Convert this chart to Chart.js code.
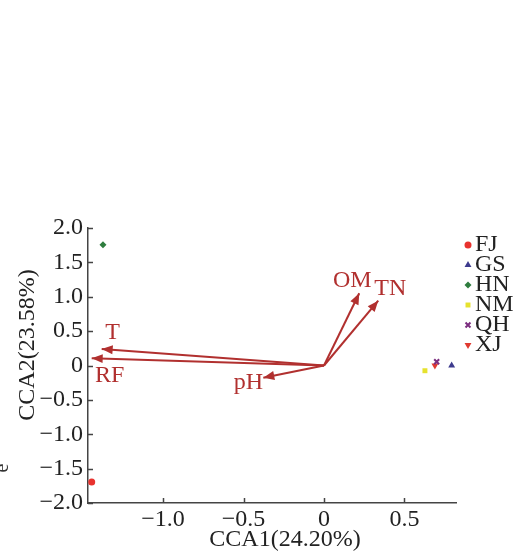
<!DOCTYPE html>
<html>
<head>
<meta charset="utf-8">
<script src="https://cdn.jsdelivr.net/npm/chart.js@4"></script>
<style>
  html, body { margin: 0; padding: 0; background: #fff; }
  #wrap { width: 525px; height: 554px; }
</style>
</head>
<body>
<div id="wrap"><canvas id="cca" width="525" height="554"></canvas></div>
<script>
// sample sites (CCA scores)
const sites = ['FJ', 'GS', 'HN', 'NM', 'QH', 'XJ'];
const siteX = [-1.443, 0.793, -1.373, 0.627, 0.700, 0.689];
const siteY = [-1.695, 0.0, 1.757, -0.076, 0.055, 0.0];

// environmental factor vectors
const factors = ['OM', 'TN', 'pH', 'T', 'RF'];
const factorX = [0.219, 0.337, -0.377, -1.381, -1.443];
const factorY = [1.05, 0.943, -0.177, 0.24, 0.105];

const xTicks = [-1.0, -0.5, 0, 0.5];
const yTicks = [-2.0, -1.5, -1.0, -0.5, 0, 0.5, 1.0, 1.5, 2.0];

// styles
const siteColors = ['#e8322e', '#3d3b8e', '#2e7d3e', '#e6e22e', '#7b2d7f', '#e03a30'];
const siteShapes = ['circle', 'triangle', 'rectRot', 'rect', 'crossRot', 'triangle'];
const siteRot = [0, 0, 0, 0, 0, 180];
const siteRadius = [3.5, 4, 3.5, 3.5, 3.5, 4];
const arrowColor = '#b1302f';
const labelOffset = [[-7, -13], [12, -12], [-15, 5], [11, -16], [18, 17]];
const serif = "'Liberation Serif', 'Times New Roman', serif";

function fmt(v) {
    if (v === 0) return '0';
    return (v < 0 ? '\u2212' : '') + Math.abs(v).toFixed(1);
}

const datasets = [];
sites.forEach((s, i) => {
    datasets.push({
        label: s,
        data: [{ x: siteX[i], y: siteY[i] }],
        pointStyle: siteShapes[i],
        rotation: siteRot[i],
        pointRadius: siteRadius[i],
        pointBackgroundColor: siteColors[i],
        pointBorderColor: siteColors[i],
        pointBorderWidth: siteShapes[i] === 'crossRot' ? 2 : 0,
        clip: false
    });
});
factors.forEach((f, i) => {
    datasets.push({
        label: f,
        data: [{ x: 0, y: 0 }, { x: factorX[i], y: factorY[i] }],
        showLine: true,
        borderColor: arrowColor,
        borderWidth: 2,
        pointRadius: 0,
        clip: false
    });
});

const extras = {
    id: 'extras',
    afterDatasetsDraw(chart) {
        const ctx = chart.ctx;
        const xs = chart.scales.x, ys = chart.scales.y;
        ctx.save();
        factors.forEach((f, i) => {
            const x0 = xs.getPixelForValue(0), y0 = ys.getPixelForValue(0);
            const x1 = xs.getPixelForValue(factorX[i]), y1 = ys.getPixelForValue(factorY[i]);
            const a = Math.atan2(y1 - y0, x1 - x0);
            const len = 11, hw = 4.5;
            ctx.fillStyle = arrowColor;
            ctx.beginPath();
            ctx.moveTo(x1, y1);
            ctx.lineTo(x1 - len * Math.cos(a) + hw * Math.sin(a), y1 - len * Math.sin(a) - hw * Math.cos(a));
            ctx.lineTo(x1 - len * Math.cos(a) - hw * Math.sin(a), y1 - len * Math.sin(a) + hw * Math.cos(a));
            ctx.closePath();
            ctx.fill();
            ctx.font = '24px ' + serif;
            ctx.textAlign = 'center';
            ctx.textBaseline = 'middle';
            ctx.fillText(f, x1 + labelOffset[i][0], y1 + labelOffset[i][1]);
        });
        ctx.restore();
    },
    afterDraw(chart) {
        const ctx = chart.ctx;
        const xs = chart.scales.x, ys = chart.scales.y;
        const area = chart.chartArea;
        ctx.save();
        // inward tick marks
        ctx.strokeStyle = '#444';
        ctx.lineWidth = 1.5;
        ctx.beginPath();
        yTicks.forEach(v => {
            const p = Math.round(ys.getPixelForValue(v)) + 0.5;
            ctx.moveTo(area.left, p);
            ctx.lineTo(area.left + 5, p);
        });
        xTicks.forEach(v => {
            const p = Math.round(xs.getPixelForValue(v)) + 0.5;
            ctx.moveTo(p, area.bottom);
            ctx.lineTo(p, area.bottom - 5);
        });
        ctx.stroke();

        // axis titles
        ctx.fillStyle = '#222';
        ctx.font = '24px ' + serif;
        ctx.textAlign = 'center';
        ctx.textBaseline = 'middle';
        ctx.fillText('CCA1(24.20%)', 285, 540);
        ctx.save();
        ctx.translate(28, 345);
        ctx.rotate(-Math.PI / 2);
        ctx.fillText('CCA2(23.58%)', 0, 0);
        ctx.restore();

        // legend
        sites.forEach((s, i) => {
            const y = 245 + i * 20;
            ctx.fillStyle = siteColors[i];
            ctx.strokeStyle = siteColors[i];
            ctx.lineWidth = siteShapes[i] === 'crossRot' ? 2 : 0;
            Chart.helpers.drawPoint(ctx, {
                pointStyle: siteShapes[i],
                rotation: siteRot[i],
                radius: siteRadius[i],
                borderWidth: siteShapes[i] === 'crossRot' ? 2 : 0
            }, 468, y);
            ctx.fillStyle = '#222';
            ctx.textAlign = 'left';
            ctx.fillText(s, 475, y);
        });

        // stray glyph at left edge
        ctx.save();
        ctx.font = '20px ' + serif;
        ctx.translate(3, 468);
        ctx.rotate(-Math.PI / 2);
        ctx.textAlign = 'center';
        ctx.fillStyle = '#333';
        ctx.fillText('e', 0, 0);
        ctx.restore();
        ctx.restore();
    }
};

new Chart(document.getElementById('cca'), {
    type: 'scatter',
    data: { datasets },
    options: {
        responsive: false,
        animation: false,
        layout: { autoPadding: false, padding: { left: 0, top: 228, right: 69, bottom: 0 } },
        plugins: { legend: { display: false }, tooltip: { enabled: false } },
        scales: {
            x: {
                min: -1.466,
                max: 0.82,
                afterBuildTicks: s => { s.ticks = xTicks.map(v => ({ value: v })); },
                afterFit: s => { s.height = 51; },
                grid: { display: false, drawTicks: false },
                border: { display: true, color: '#444', width: 1.5 },
                ticks: {
                    padding: 2,
                    color: '#222',
                    font: { family: serif, size: 24 },
                    callback: v => fmt(v),
                    maxRotation: 0
                }
            },
            y: {
                min: -2,
                max: 2,
                afterBuildTicks: s => { s.ticks = yTicks.map(v => ({ value: v })); },
                afterFit: s => { s.width = 88; },
                grid: { display: false, drawTicks: false },
                border: { display: true, color: '#444', width: 1.5 },
                ticks: {
                    padding: 5,
                    color: '#222',
                    font: { family: serif, size: 24 },
                    callback: v => fmt(v)
                }
            }
        }
    },
    plugins: [extras]
});
</script>
</body>
</html>
